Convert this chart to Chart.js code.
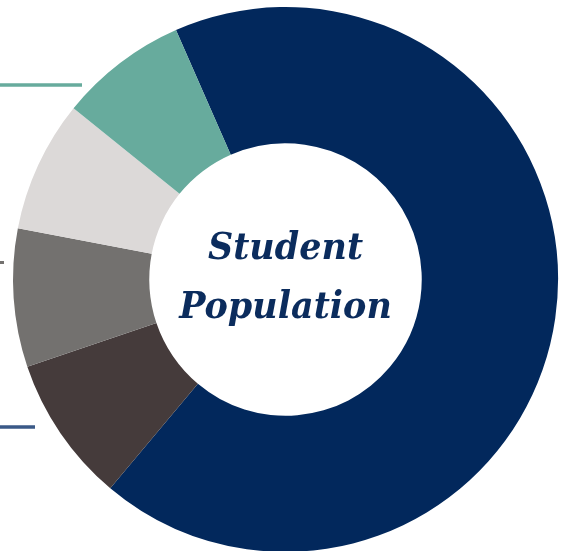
<!DOCTYPE html>
<html>
<head>
<meta charset="utf-8">
<script src="https://cdn.jsdelivr.net/npm/chart.js@4/dist/chart.umd.min.js"></script>
<style>
    html, body { margin: 0; padding: 0; background: #fff; overflow: hidden; }
    #wrap { position: relative; width: 566px; height: 560px; }
</style>
</head>
<body>
<div id="wrap"><canvas id="donut"></canvas></div>
<script>
// Shares of the student population (percent), clockwise from the top-left
const groups = ['Group 1', 'Group 2', 'Group 3', 'Group 4', 'Group 5'];
const shares = [67.7, 8.7, 8.2, 7.8, 7.6];
const sliceColors = ['#02285c', '#453b3b', '#73716f', '#dcd9d8', '#67ab9d'];
const centerLines = ['Student', 'Population'];

// short leader lines cut off at the left edge (decoration only)
const leaderLines = [
    { y: 85, x2: 82, color: '#67ab9d', width: 3.5 },
    { y: 262.5, x2: 4, color: '#73716f', width: 3 },
    { y: 427, x2: 35, color: '#3a5987', width: 3.5 }
];

const centerText = {
    id: 'centerText',
    afterDraw(chart) {
        const arc = chart.getDatasetMeta(0).data[0];
        if (!arc) return;
        const ctx = chart.ctx;
        ctx.save();
        ctx.fillStyle = '#0b2c5d';
        ctx.textAlign = 'center';
        ctx.textBaseline = 'alphabetic';
        ctx.font = 'italic bold 38px "DejaVu Serif", serif';
        // DejaVu is wider than the original face, squeeze it a bit
        ctx.translate(arc.x, arc.y);
        ctx.scale(0.92, 1);
        ctx.fillText(centerLines[0], 0, -21);
        ctx.fillText(centerLines[1], 0, 38.5);
        ctx.restore();

        ctx.save();
        leaderLines.forEach(l => {
            ctx.strokeStyle = l.color;
            ctx.lineWidth = l.width;
            ctx.beginPath();
            ctx.moveTo(0, l.y);
            ctx.lineTo(l.x2, l.y);
            ctx.stroke();
        });
        ctx.restore();
    }
};

new Chart(document.getElementById('donut').getContext('2d'), {
    type: 'doughnut',
    data: {
        labels: groups,
        datasets: [{
            data: shares,
            backgroundColor: sliceColors,
            borderWidth: 0
        }]
    },
    options: {
        responsive: true,
        maintainAspectRatio: false,
        animation: false,
        cutout: '50%',
        rotation: -23.7,
        layout: { padding: { left: 13, top: 7, right: 8, bottom: 8 } },
        plugins: {
            legend: { display: false },
            tooltip: { enabled: false }
        }
    },
    plugins: [centerText]
});
</script>
</body>
</html>
